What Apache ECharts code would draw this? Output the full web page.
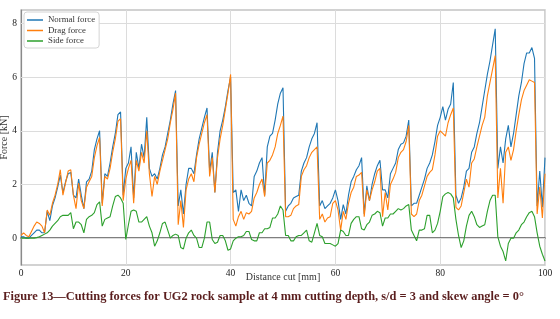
<!DOCTYPE html>
<html>
<head>
<meta charset="utf-8">
<script src="https://cdn.jsdelivr.net/npm/echarts@6/dist/echarts.min.js"></script>
<style>
html, body { margin: 0; padding: 0; background: #fff; }
#chart { width: 560px; height: 319px; }
</style>
</head>
<body>
<div id="chart"></div>
<script>
// forces in kN, one sample every 0.5 mm of cut
const normalForce = [
  0.05, 0.05, 0.0, 0.0, 0.1, 0.2, 0.3, 0.3, 0.2, 0.2,
  1.0, 0.65, 1.2, 1.5, 1.9, 2.35, 1.7, 2.1, 2.4, 2.45,
  1.6, 1.5, 2.2, 1.6, 1.1, 2.1, 2.2, 2.5, 3.3, 3.7,
  4.0, 1.3, 2.4, 2.3, 2.8, 3.4, 3.9, 4.6, 4.7, 1.6,
  2.6, 2.8, 3.4, 1.5, 3.2, 2.6, 3.5, 3.0, 4.5, 2.6,
  2.3, 2.4, 2.2, 2.6, 3.1, 3.4, 3.9, 4.4, 5.0, 5.5,
  1.2, 1.8, 0.9, 2.0, 2.6, 2.6, 2.4, 3.1, 3.7, 4.1,
  4.5, 4.85, 2.5, 3.2, 1.7, 3.2, 4.0, 4.4, 4.9, 5.5,
  6.0, 1.7, 1.8, 1.0, 1.8, 1.4, 1.6, 1.3, 1.2, 2.3,
  2.5, 2.8, 3.0, 1.6, 3.4, 3.8, 3.9, 4.4, 5.0, 5.4,
  5.6, 1.0, 1.2, 1.3, 1.5, 1.55, 1.6, 2.5, 2.8, 3.0,
  3.4, 3.7, 3.9, 4.3, 1.2, 1.4, 1.1, 1.2, 1.3, 1.5,
  1.8, 1.4, 0.7, 1.25, 0.9, 1.6, 2.1, 2.3, 2.55, 2.7,
  3.0, 0.9, 1.95, 1.4, 2.0, 2.4, 2.7, 2.9, 1.8, 1.8,
  1.5, 2.4, 2.6, 2.8, 3.3, 3.5, 3.55, 3.8, 4.4, 1.2,
  1.3, 1.3, 1.6, 1.9, 2.2, 2.6, 2.8, 3.1, 3.6, 4.2,
  4.5, 4.9, 4.4, 4.8, 5.0, 5.8, 1.6, 1.3, 1.5, 1.9,
  2.5, 2.6, 3.2, 3.4, 3.9, 4.3, 4.9, 5.5, 6.1, 6.6,
  7.2, 7.8, 2.6, 3.4, 2.8, 3.7, 4.2, 3.4, 3.9, 4.6,
  5.3, 5.8, 6.5, 6.9, 6.9, 7.1, 6.7, 1.2, 2.5, 1.15,
  3.0
]
const dragForce = [
  0.1, 0.2, 0.1, 0.05, 0.25, 0.45, 0.6, 0.55, 0.45, 0.2,
  1.05, 0.85, 1.3, 1.6, 2.0, 2.55, 1.6, 2.05, 2.5, 2.55,
  1.6, 1.1, 2.05, 1.4, 1.1, 1.9, 2.1, 2.3, 3.0, 3.45,
  3.75, 1.2, 2.3, 2.2, 2.6, 3.2, 3.7, 4.35, 4.45, 1.4,
  2.2, 2.6, 2.9, 1.3, 2.9, 2.5, 3.2, 2.8, 4.0, 2.4,
  1.55, 2.3, 2.0, 2.5, 2.9, 3.3, 3.7, 4.3, 4.8, 5.4,
  0.5, 1.4, 0.4, 1.8, 2.2, 2.4, 2.1, 3.0, 3.5, 3.9,
  4.3, 4.6, 2.3, 3.0, 1.7, 3.0, 3.7, 4.2, 4.8, 5.4,
  6.1, 0.7, 0.45, 0.8, 1.0, 0.7, 0.95, 0.9, 1.0, 1.5,
  1.7, 2.0, 2.2, 1.55, 2.8, 2.9, 3.1, 3.4, 3.9, 4.2,
  4.55, 0.8, 0.8, 0.85, 1.1, 1.2, 1.25, 2.3, 2.55, 2.7,
  3.0, 3.2, 3.3, 3.4, 0.7, 0.9, 0.6, 0.75, 0.8, 1.3,
  1.4, 1.05, 0.3, 1.0, 0.7, 1.3, 1.7, 1.9, 2.3, 2.35,
  2.45, 0.8, 1.8, 1.4, 1.8, 2.1, 2.5, 2.6, 0.8, 1.7,
  1.05, 2.0, 2.2, 2.45, 3.0, 3.2, 3.3, 3.6, 4.2, 0.9,
  0.8, 0.9, 1.4, 1.6, 1.95, 2.3, 2.45, 2.55, 3.1, 3.8,
  4.0, 3.9, 3.8, 4.3, 4.6, 4.85, 1.15, 1.05, 1.2, 1.7,
  2.2, 1.9, 2.8, 2.95, 3.4, 3.8, 4.2, 4.5, 5.3, 5.8,
  6.3, 6.8, 1.5, 2.6, 1.3, 3.2, 3.4, 2.9, 3.3, 4.0,
  4.6, 5.15, 5.5, 5.7, 5.9, 5.85, 5.8, 0.9, 1.9, 0.75,
  2.4
]
const sideForce = [
  0.0, 0.0, 0.0, 0.0, 0.0, 0.0, 0.02, 0.05, 0.1, 0.15,
  0.2, 0.3, 0.45, 0.55, 0.65, 0.8, 0.85, 0.85, 0.85, 0.95,
  0.35, 0.6, 0.6, 0.5, 0.2, 0.7, 0.8, 0.85, 0.95, 1.25,
  1.35, 0.45, 0.7, 0.75, 0.8, 1.2, 1.55, 1.6, 1.5, 1.3,
  -0.05, 0.5, 1.0, 1.05, 1.0, 0.6, 0.6, 0.7, 0.8, 0.45,
  0.2, -0.3, -0.1, 0.2, 0.55, 0.6, 0.3, 0.0, 0.1, 0.15,
  0.1, -0.35, -0.4, 0.0, 0.2, 0.3, 0.1, 0.0, -0.35, -0.35,
  0.0, 0.6, 0.6, -0.05, -0.2, -0.15, 0.1, 0.1, -0.1, -0.45,
  -0.4, -0.1, 0.0, 0.05, 0.05, 0.1, 0.25, 0.25, -0.05, -0.1,
  -0.1, 0.2, 0.2, 0.35, 0.35, 0.4, 0.75, 0.75, 0.9, 1.2,
  1.05, 0.1, 0.1, -0.1, -0.1, 0.05, 0.1, 0.1, 0.2, 0.3,
  -0.1, -0.15, 0.2, 0.55, 0.1, 0.05, -0.2, -0.2, -0.2, -0.25,
  -0.3, -0.2, 0.3, 0.25, 0.1, 0.1, 0.55, 0.7, 0.8, 0.8,
  0.35, 0.3, 0.5, 0.6, 0.85, 0.9, 1.0, 0.95, 0.45, 0.75,
  0.75, 0.9, 0.9, 1.0, 1.1, 1.05, 1.1, 1.2, 1.25, 0.3,
  0.1, -0.1, 0.3, 0.3, 0.35, 0.85, 0.85, 0.2, 0.3, 0.55,
  1.0, 1.55, 1.65, 1.7, 1.65, 1.5, 0.7, 0.1, -0.35, -0.1,
  0.45, 0.85, 1.0, 0.8, 0.5, 0.4, 0.45, 0.5, 1.0, 1.4,
  1.6, 1.6, 0.05, -0.3, -0.5, -0.85, -0.2, 0.0, 0.0, 0.2,
  0.3, 0.5, 0.6, 0.8, 0.95, 1.0, 0.8, 0.2, -0.3, -0.6,
  -0.85
]
const sampleStep = 0.5   // mm between samples
const distance = normalForce.map((v, i) => i * sampleStep)
const yTickValues = [0, 2, 4, 6, 8]
const seriesNames = ['Normal force', 'Drag force', 'Side force']
const seriesColors = ['#1f77b4', '#ff7f0e', '#2ca02c']

const serif = 'Liberation Serif'
const toPairs = arr => arr.map((v, i) => [distance[i], v])

const chart = echarts.init(document.getElementById('chart'))

const lineSeries = [normalForce, dragForce, sideForce].map((arr, k) => ({
  name: seriesNames[k],
  type: 'line',
  symbol: 'none',
  data: toPairs(arr),
  lineStyle: { color: seriesColors[k], width: 1.1 },
  itemStyle: { color: seriesColors[k] },
  z: 3
}))

// horizontal grid lines only at the labelled values (axis starts at -1)
lineSeries[0].markLine = {
  silent: true,
  symbol: 'none',
  label: { show: false },
  z: 1,
  lineStyle: { color: '#dcdcdc', width: 1, type: 'solid' },
  data: yTickValues.map(v => ({ yAxis: v }))
}

const option = {
  animation: false,
  title: {
    text: 'Figure 13\u2014Cutting forces for UG2 rock sample at 4 mm cutting depth, s/d = 3 and skew angle = 0\u00b0',
    left: 3,
    top: 291,
    padding: 0,
    textStyle: { fontFamily: serif, fontSize: 12.4, fontWeight: 'bold', color: '#5a1e1e' }
  },
  grid: {
    left: 21, right: 15, top: 10, bottom: 54,
    outerBoundsMode: 'none',
    containLabel: false,
    show: true, borderColor: '#c4c4c4', borderWidth: 1.5
  },
  legend: {
    data: seriesNames,
    orient: 'vertical',
    left: 24, top: 12,
    padding: [3, 4, 2, 3],
    itemGap: 0.5,
    icon: 'rect',
    itemWidth: 16, itemHeight: 1.5,
    backgroundColor: '#fff',
    borderColor: '#d4d4d4', borderWidth: 1, borderRadius: 3,
    textStyle: { fontFamily: serif, fontSize: 8.8, lineHeight: 10, color: '#333', padding: [0, 0, 0, 0] }
  },
  xAxis: {
    type: 'value',
    min: 0, max: 100, interval: 20,
    name: 'Distance cut [mm]',
    nameLocation: 'middle',
    nameGap: 7,
    nameMoveOverlap: false,
    nameTextStyle: { fontFamily: serif, fontSize: 10, color: '#333' },
    axisLine: { lineStyle: { color: '#555', width: 1.5 } },
    axisTick: { show: false },
    axisLabel: { fontFamily: serif, fontSize: 9.5, color: '#222', margin: 3 },
    splitLine: { show: true, lineStyle: { color: '#dcdcdc', width: 1 } }
  },
  yAxis: {
    type: 'value',
    min: -1, max: 8.5,
    name: 'Force [kN]',
    nameLocation: 'middle',
    nameGap: 12,
    nameMoveOverlap: false,
    nameTextStyle: { fontFamily: serif, fontSize: 10, color: '#333' },
    axisLine: { show: true, lineStyle: { color: '#8a8a8a', width: 1.2 } },
    axisTick: { show: false },
    axisLabel: {
      fontFamily: serif, fontSize: 9.5, color: '#222', margin: 4,
      customValues: yTickValues,
      showMinLabel: true, showMaxLabel: true
    },
    splitLine: { show: false }
  },
  series: lineSeries
}

chart.setOption(option)
</script>
</body>
</html>
